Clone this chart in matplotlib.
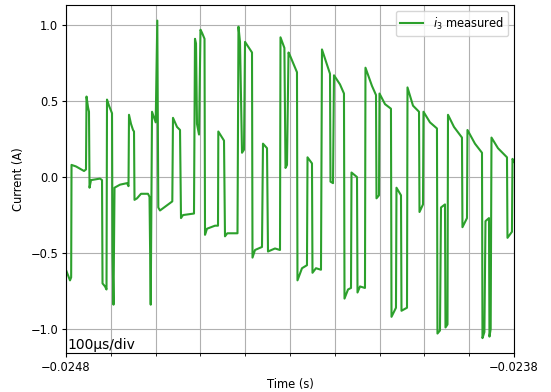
import numpy as np
import matplotlib
matplotlib.use("Agg")
import matplotlib.pyplot as plt
from matplotlib.ticker import MultipleLocator, FixedLocator

# Trace vertices read off the scope capture: time offset in microseconds
# from t0 = -0.0248 s, and measured current in amps
t0 = -0.0248
t_us = [
    1.1, 8.9, 11.5, 12.3, 22.3, 40.2, 44.6, 45.8, 49.1, 51.3,
    52.5, 55.8, 75.9, 80.4, 81.5, 87.1, 90.4, 91.5, 96.0, 102.7,
    103.8, 106.0, 108.3, 120.5, 136.2, 139.5, 140.6, 145.1, 149.6, 151.8,
    152.9, 158.5, 167.4, 183.0, 186.4, 189.1, 192.0, 200.2, 203.8, 206.0,
    209.8, 237.3, 238.8, 247.8, 254.5, 256.7, 261.2, 285.7, 287.9, 290.2,
    292.4, 296.9, 300.2, 303.6, 309.2, 310.3, 314.7, 332.6, 339.3, 340.0,
    352.7, 354.9, 360.0, 382.8, 385.0, 388.4, 392.9, 397.3, 399.6, 415.2,
    416.3, 421.9, 437.5, 439.7, 448.7, 450.9, 466.5, 477.7, 478.8, 487.5,
    490.0, 493.3, 496.7, 500.0, 515.6, 516.7, 526.8, 537.9, 539.1, 549.1,
    550.2, 558.0, 569.2, 571.4, 584.8, 589.3, 590.4, 596.0, 598.2, 611.6,
    620.5, 621.7, 629.5, 636.2, 637.3, 649.6, 650.7, 656.3, 667.4, 668.5,
    683.0, 692.0, 693.1, 698.7, 699.8, 712.1, 725.4, 726.6, 736.6, 737.7,
    747.8, 748.9, 761.2, 762.3, 774.6, 788.0, 789.1, 796.9, 798.0, 812.5,
    828.1, 829.2, 834.8, 837.1, 846.0, 847.1, 851.6, 852.7, 866.1, 883.9,
    885.0, 895.1, 896.2, 912.9, 928.6, 929.7, 934.0, 936.4, 944.2, 945.3,
    948.0, 949.8, 964.3, 984.4, 985.5, 995.5, 996.7, 1000.0,
]
i3 = [
    -0.62, -0.68, -0.66, 0.08, 0.07, 0.04, 0.05, 0.53, 0.46, 0.43,
    -0.07, -0.02, -0.01, -0.02, -0.70, -0.72, -0.74, 0.51, 0.47, 0.42,
    -0.50, -0.84, -0.07, -0.05, -0.04, -0.06, 0.41, 0.35, 0.31, 0.30,
    -0.15, -0.14, -0.11, -0.11, -0.13, -0.84, 0.43, 0.36, 1.03, -0.20,
    -0.22, -0.16, 0.39, 0.33, 0.31, -0.27, -0.25, -0.24, 0.91, 0.88,
    0.35, 0.28, 0.97, 0.95, 0.91, -0.38, -0.34, -0.32, -0.32, 0.30,
    0.24, -0.39, -0.37, -0.37, 0.99, 0.89, 0.16, 0.18, 0.89, 0.82,
    -0.53, -0.48, -0.46, 0.22, 0.19, -0.49, -0.47, -0.48, 0.92, 0.85,
    0.06, 0.08, 0.82, 0.80, 0.69, -0.68, -0.60, -0.58, 0.13, 0.09,
    -0.63, -0.60, -0.61, 0.84, 0.72, 0.68, -0.03, -0.04, 0.67, 0.61,
    0.55, -0.80, -0.74, -0.73, 0.03, 0.00, -0.76, -0.72, -0.73, 0.72,
    0.60, 0.54, -0.14, -0.12, 0.55, 0.48, 0.45, -0.92, -0.86, -0.07,
    -0.12, -0.88, -0.86, 0.59, 0.47, 0.43, -0.23, -0.18, 0.43, 0.36,
    0.32, -1.03, -1.01, -0.20, -0.18, -0.99, -0.97, 0.41, 0.33, 0.26,
    -0.33, -0.27, 0.31, 0.22, 0.16, -1.06, -1.02, -0.29, -0.27, -1.05,
    -1.00, 0.26, 0.19, 0.13, -0.40, -0.36, 0.12, 0.10,
]

t = t0 + np.array(t_us) * 1e-6

fig = plt.figure(figsize=(5.51, 3.92), dpi=100)
ax = fig.add_axes([0.1198, 0.0995, 0.813, 0.8875])

ax.plot(t, i3, color="#2ca02c", linewidth=1.5, label=r"$i_3$ measured")

ax.set_xlim(-0.0248, -0.0238)
ax.set_ylim(-1.158, 1.132)

ax.xaxis.set_major_locator(FixedLocator([-0.0248, -0.0238]))
ax.xaxis.set_minor_locator(MultipleLocator(1e-4))
ax.set_xticklabels(["\u22120.0248", "\u22120.0238"])
ax.yaxis.set_major_locator(MultipleLocator(0.5))
ax.tick_params(which="major", labelsize=8.3, length=3, pad=2.5)
ax.tick_params(which="minor", length=2)

ax.grid(which="both", color="#b0b0b0", linewidth=0.8)
ax.set_axisbelow(True)

ax.set_xlabel("Time (s)", fontsize=8.3, labelpad=3)
ax.set_ylabel("Current (A)", fontsize=8.3, labelpad=4)

ax.text(0.004, 0.003, "100\u00b5s/div", transform=ax.transAxes,
        fontsize=10, ha="left", va="bottom")

ax.legend(loc="upper right", fontsize=8.3)

fig.savefig("out.png", dpi=100)
